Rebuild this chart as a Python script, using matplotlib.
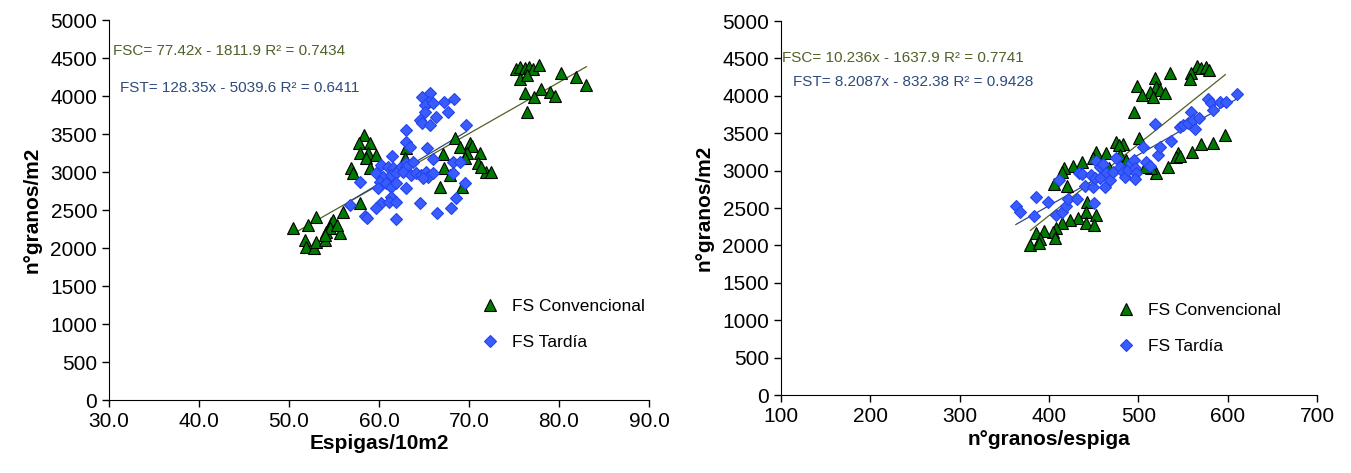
# Grain number vs. spike density and grains per spike, two sowing dates

import matplotlib.pyplot as plt
import numpy as np

plt.rcParams['font.family'] = ['Liberation Sans', 'DejaVu Sans']

# Espigas/10m2 vs n°granos/m2 - FS Convencional
espigas_fsc = [75.26, 75.70, 76.19, 76.67, 77.11, 77.74, 75.63, 76.45, 80.26, 81.85, 83.04,
               78.04, 78.96, 79.52, 76.19, 77.22, 76.45,
               58.30, 57.78, 58.96, 57.93, 58.78, 59.70, 58.59, 56.93, 57.11, 58.96,
               63.04, 62.93, 68.41, 68.96, 70.07, 70.33, 69.78, 71.19, 67.11, 69.52,
               71.00, 71.93, 72.48, 71.37, 67.19, 67.85, 66.74, 69.26, 57.85,
               50.45, 52.11, 53.04, 51.74, 51.93, 52.74, 53.04, 53.96, 54.15, 54.70,
               54.89, 55.63, 56.00, 54.52, 55.33, 53.96]
granos_m2_fsc_a = [4351, 4386, 4364, 4386, 4351, 4404, 4219, 4276, 4298, 4246, 4145,
                   4088, 4057, 4000, 4044, 3991, 3794,
                   3487, 3377, 3377, 3255, 3246, 3224, 3180, 3048, 2983, 3048,
                   3312, 3180, 3443, 3333, 3377, 3342, 3246, 3246, 3237, 3180,
                   3114, 3005, 3005, 3070, 3048, 2961, 2807, 2807, 2588,
                   2259, 2303, 2412, 2105, 2018, 1996, 2083, 2105, 2215, 2325,
                   2369, 2193, 2478, 2259, 2303, 2171]

# Espigas/10m2 vs n°granos/m2 - FS Tardía
espigas_fst = [64.82, 65.63, 65.56, 65.07, 66.00, 67.19, 68.30, 67.67, 65.07, 66.30,
               64.52, 64.82, 65.70, 62.96, 69.70, 63.04, 63.48, 65.33, 61.48, 62.96,
               63.78, 66.00, 68.22, 68.96, 60.26, 61.00, 61.56, 62.30, 63.04, 59.70,
               60.45, 61.37, 61.93, 62.67, 63.59, 64.15, 64.70, 65.26, 65.44, 66.00,
               64.89, 68.22, 57.93, 60.07, 60.81, 61.37, 61.93, 63.04, 59.89, 69.52,
               68.59, 61.37, 60.26, 61.11, 61.93, 64.52, 56.74, 59.70, 68.04, 66.48,
               61.93, 58.41, 58.67]
granos_m2_fst_a = [3991, 4035, 3926, 3882, 3904, 3926, 3956, 3794, 3794, 3728,
                   3684, 3640, 3619, 3553, 3619, 3399, 3325, 3312, 3211, 3123,
                   3136, 3167, 3136, 3136, 3092, 3070, 3048, 3048, 3070, 2983,
                   2939, 2961, 2983, 3005, 2961, 2983, 2961, 3005, 2939, 2983,
                   2917, 2983, 2873, 2873, 2851, 2807, 2851, 2785, 2785, 2860,
                   2654, 2676, 2597, 2610, 2610, 2588, 2566, 2522, 2522, 2456,
                   2377, 2421, 2399]

# n°granos/espiga vs n°granos/m2 - FS Convencional
granos_esp_fsc = [565.8, 570.6, 576.2, 579.2, 559.4, 557.5, 518.4, 535.2, 499.0, 519.5,
                  513.5, 524.0, 529.6, 504.2, 516.5, 494.9,
                  597.4, 583.6, 570.6, 560.5, 544.5, 542.6, 547.1, 533.3, 520.3, 514.7, 507.2,
                  475.5, 483.0, 478.5, 500.5, 453.1, 463.6, 437.5, 427.0, 416.6, 415.1,
                  405.4, 420.3, 449.4, 467.3, 479.2, 486.7,
                  442.7, 441.2, 452.4, 432.6, 423.3, 415.1, 441.9, 450.1, 408.4, 404.7,
                  394.2, 385.3, 389.7, 406.5, 379.3, 389.0]
granos_m2_fsc_b = [4398, 4367, 4381, 4345, 4300, 4220, 4234, 4300, 4131, 4122,
                   4055, 4078, 4042, 4011, 3980, 3788,
                   3476, 3374, 3356, 3253, 3231, 3186, 3195, 3053, 2973, 3031, 3053,
                   3387, 3356, 3342, 3431, 3253, 3231, 3120, 3062, 3031, 2986,
                   2821, 2794, 3164, 3031, 3209, 3142,
                   2585, 2451, 2407, 2362, 2340, 2304, 2304, 2273, 2228, 2184,
                   2197, 2162, 2081, 2095, 2006, 2028]

# n°granos/espiga vs n°granos/m2 - FS Tardía
granos_esp_fst = [362.9, 367.4, 383.0, 385.3, 399.1, 411.4, 408.4, 415.1, 419.6, 421.8,
                  431.5, 433.7, 437.5, 440.1, 449.4, 450.2, 453.1, 456.9, 460.6, 464.3,
                  447.5, 451.3, 456.9, 462.5, 468.0, 471.8, 475.5, 479.2, 483.0, 484.8,
                  488.6, 492.3, 494.9, 496.0, 497.9, 496.0, 505.3, 509.1, 512.8, 522.1,
                  524.0, 537.0, 518.4, 546.4, 550.1, 555.7, 559.4, 561.3, 563.1, 568.0,
                  578.1, 581.8, 583.6, 591.1, 598.6, 610.5]
granos_m2_fst_b = [2527, 2451, 2393, 2652, 2585, 2874, 2407, 2451, 2527, 2616,
                   2616, 2972, 2955, 2794, 2785, 2563, 3133, 3053, 3088, 2964,
                   2941, 2897, 2897, 2785, 2875, 2986, 3164, 3053, 2986, 2919,
                   3008, 3097, 3142, 3031, 2964, 2883, 3311, 3120, 3062, 3209,
                   3320, 3400, 3623, 3579, 3610, 3632, 3788, 3677, 3552, 3699,
                   3953, 3899, 3810, 3922, 3922, 4024]

eq_left = ['FSC= 77.42x - 1811.9 R² = 0.7434', 'FST= 128.35x - 5039.6 R² = 0.6411']
eq_right = ['FSC= 10.236x - 1637.9 R² = 0.7741', 'FST= 8.2087x - 832.38 R² = 0.9428']
labels = ['FS Convencional', 'FS Tardía']

GREEN = '#007a00'
BLUE = '#3a5cff'
LINE_GREEN = '#4f6228'
LINE_BLUE = '#2f4b7c'


def scatter_panel(ax, x1, y1, x2, y2, equations, eq_pos, leg_anchor):
    # Triangles for conventional date, diamonds for late date
    h1, = ax.plot(x1, y1, '^', color=GREEN, mec='black', mew=0.8, ms=9, ls='none')
    h2, = ax.plot(x2, y2, 'D', color=BLUE, mec='#2244ee', mew=0.8, ms=6.5, ls='none')

    # Linear trendlines over each series range
    for x, y, c in [(x1, y1, LINE_GREEN), (x2, y2, LINE_BLUE)]:
        x = np.asarray(x)
        m, b = np.polyfit(x, y, 1)
        xs = np.array([x.min(), x.max()])
        ax.plot(xs, m * xs + b, color=c, lw=0.9, zorder=1)

    for txt, (tx, ty), c in zip(equations, eq_pos, [LINE_GREEN, LINE_BLUE]):
        ax.text(tx, ty, txt, transform=ax.transAxes, color=c, fontsize=11,
                va='center', ha='left')

    ax.legend([h1, h2], labels, loc='upper left', bbox_to_anchor=leg_anchor,
              frameon=False, fontsize=12.5, handletextpad=0.7, labelspacing=1.2,
              borderaxespad=0, handlelength=1.2)

    ax.set_ylim(0, 5000)
    ax.set_yticks(np.arange(0, 5001, 500))
    for s in ['top', 'right']:
        ax.spines[s].set_visible(False)
    ax.tick_params(labelsize=15, direction='out', length=5, width=1)
    ax.set_ylabel('n°granos/m2', fontsize=15, fontweight='bold', labelpad=6)


def main():
    fig = plt.figure(figsize=(13.51, 4.73), dpi=100)
    ax1 = fig.add_axes([0.0807, 0.1543, 0.3997, 0.8034])
    ax2 = fig.add_axes([0.5781, 0.1649, 0.3967, 0.7907])

    scatter_panel(ax1, espigas_fsc, granos_m2_fsc_a, espigas_fst, granos_m2_fst_a,
                  eq_left, [(0.007, 0.919), (0.02, 0.82)], (0.673, 0.284))
    ax1.set_xlim(30, 90)
    ax1.set_xticks(np.arange(30, 91, 10))
    ax1.set_xticklabels([f'{v:.1f}' for v in range(30, 91, 10)])
    ax1.set_xlabel('Espigas/10m2', fontsize=15, fontweight='bold', labelpad=2)

    scatter_panel(ax2, granos_esp_fsc, granos_m2_fsc_b, granos_esp_fst, granos_m2_fst_b,
                  eq_right, [(0.001, 0.900), (0.023, 0.838)], (0.611, 0.266))
    ax2.set_xlim(100, 700)
    ax2.set_xticks(np.arange(100, 701, 100))
    ax2.set_xlabel('n°granos/espiga', fontsize=15, fontweight='bold', labelpad=3)

    fig.savefig('out.png', dpi=100)


if __name__ == '__main__':
    main()
